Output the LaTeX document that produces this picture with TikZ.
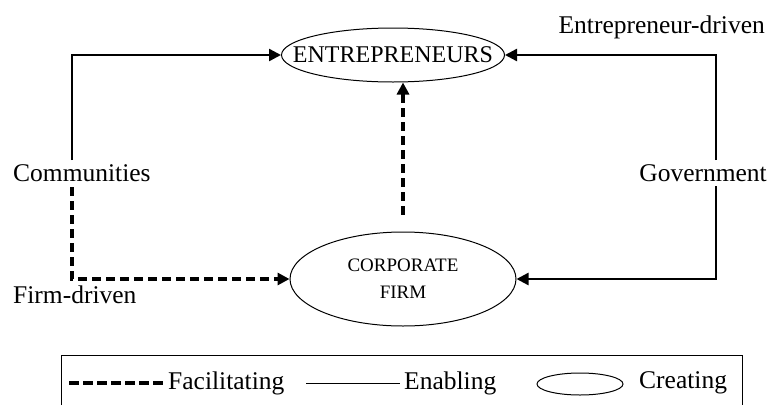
\documentclass[tikz,border=0pt]{standalone}
\usepackage{fontspec}
\setmainfont{Liberation Serif}
\usetikzlibrary{arrows.meta,shapes.geometric}
\begin{document}
\begin{tikzpicture}[x=1pt,y=-1pt,
  lbl/.style={font=\fontsize{25.5}{30}\selectfont, inner sep=0pt},
  oval/.style={ellipse, draw, line width=1pt, inner sep=0pt},
  enab/.style={line width=2.4pt},
  facil/.style={line width=3.5pt, dash pattern=on 9pt off 5pt},
  tip/.style={-{Triangle[length=12pt,width=12pt]}},
  legline/.style={line width=1pt}
]
\useasboundingbox (0,0) rectangle (771,405);

% main ellipses
\node[oval, minimum width=223pt, minimum height=54pt] (ent) at (393,55) {};
\node[lbl, font=\fontsize{24}{28}\selectfont] (entlbl) at (ent.center) {ENTREPRENEURS};
\node[oval, minimum width=226pt, minimum height=94pt] (firm) at (403,279) {};
\node[inner sep=0pt, align=center, font=\fontsize{19}{27}\selectfont] (firmlbl) at (firm.center) {CORPORATE\\FIRM};

% labels
\node[lbl, anchor=west] (comm) at (13,173) {Communities};
\node[lbl, anchor=west] (firmdr) at (13,295) {Firm-driven};
\node[lbl, anchor=east] (gov) at (767,173) {Government};
\node[lbl, anchor=east] (entdr) at (765,27) {Entrepreneur-driven};

% connector end points
\coordinate (cu) at (72,160);
\coordinate (cd) at (72,187);
\coordinate (gu) at (716,160);
\coordinate (gd) at (716,186);

% connectors
\draw[enab, tip] (cu) |- (ent.west);
\draw[enab, tip] (gu) |- (ent.east);
\draw[enab, tip] (gd) |- (firm.east);
\draw[facil, tip] (cd) |- (firm.west);
\draw[facil, tip] ([yshift=17pt]firm.north) -- ([xshift=10pt]ent.south);

% legend
\draw[line width=1pt] (61,405) -- (61,355) -- (742,355) -- (742,405);
\coordinate (la) at (69,383);
\coordinate (lb) at (165,383);
\draw[line width=3.5pt, dash pattern=on 10pt off 4pt] (la) -- (lb);
\node[lbl, anchor=west] (lfac) at (168,383) {Facilitating};
\coordinate (lc) at (306,383);
\coordinate (ld) at (400,383);
\draw[legline] (lc) -- (ld);
\node[lbl, anchor=west] (lena) at (404,383) {Enabling};
\node[oval, minimum width=86pt, minimum height=22pt] (lell) at (580,384) {};
\node[lbl, anchor=west] (lcre) at (639,383) {Creating};
\end{tikzpicture}
\end{document}
